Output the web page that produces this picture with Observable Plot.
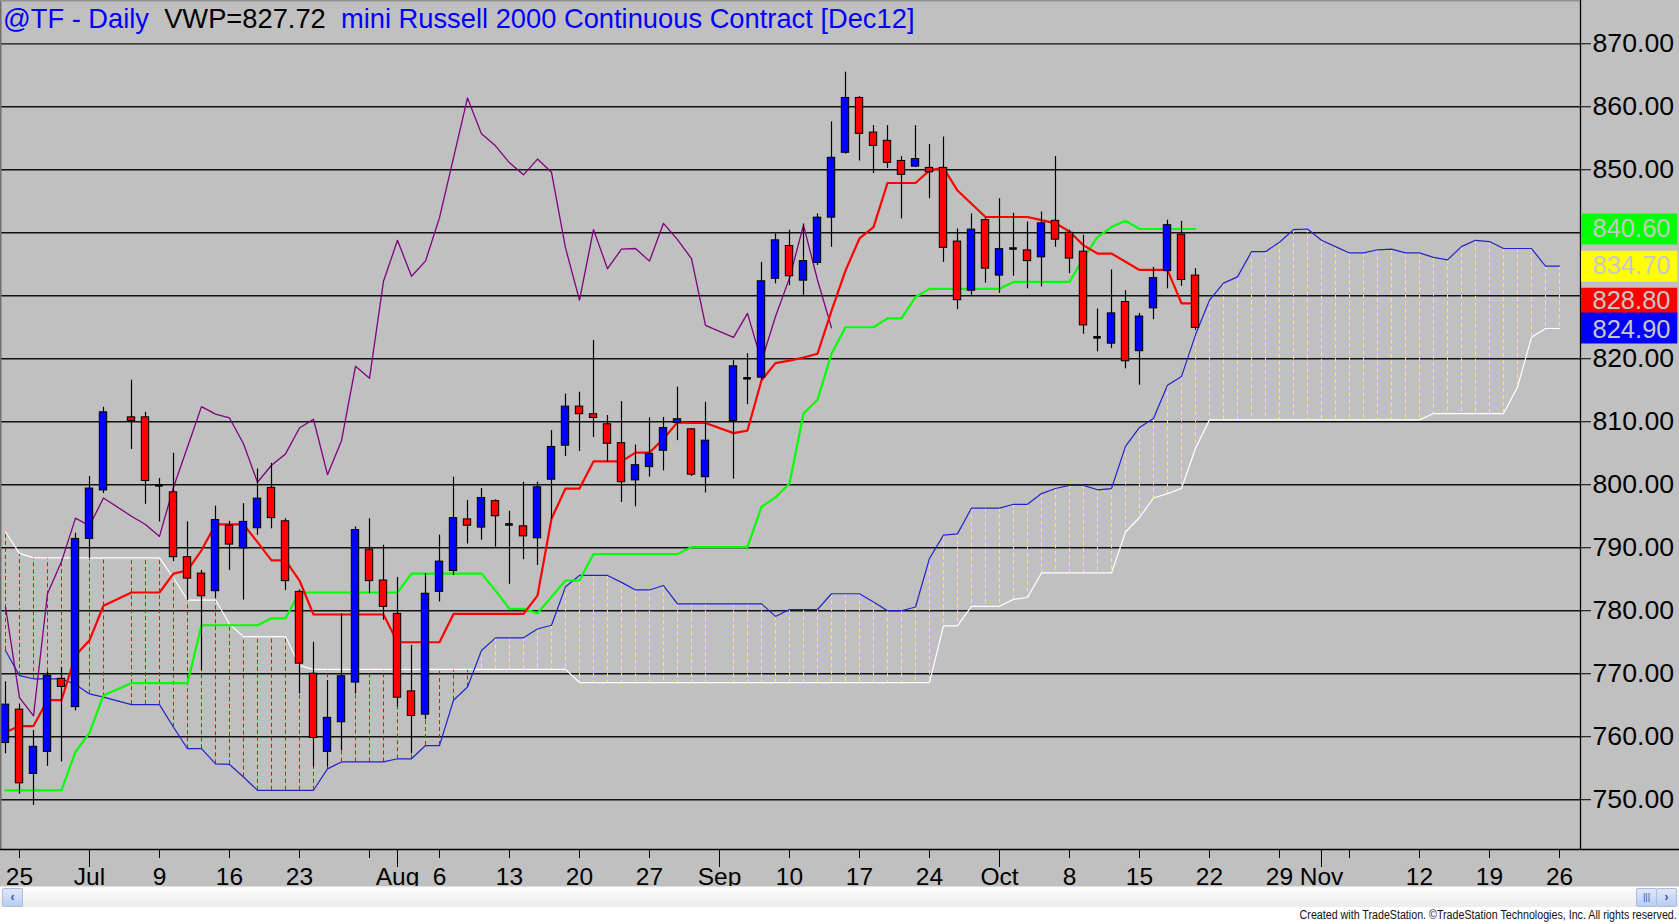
<!DOCTYPE html>
<html><head><meta charset="utf-8">
<script src="https://cdn.jsdelivr.net/npm/d3@7"></script>
<script src="https://cdn.jsdelivr.net/npm/@observablehq/plot@0.6"></script>
<style>
html,body{margin:0;padding:0;background:#fff;}
#wrap{position:relative;width:1679px;height:924px;overflow:hidden;font-family:"Liberation Sans",Arial,sans-serif;background:#fff;}
#chart svg{display:block;}
#title{position:absolute;left:3px;top:3px;font-size:27.3px;line-height:32px;color:#0000FF;white-space:pre;}
#title .k{color:#000;}
#sb{position:absolute;left:0;top:886px;width:1679px;height:20px;background:linear-gradient(#fdfdfd,#ececec);border-top:1px solid #e0e0e0;}
.btn{position:absolute;top:1px;width:19px;height:17px;background:linear-gradient(#dfe8f8,#b9cdf0);border:1px solid #a9bde0;border-radius:2px;color:#3050a0;font-size:12px;line-height:17px;text-align:center;font-weight:bold;}
#ft{position:absolute;right:2px;top:907px;font-size:12px;line-height:16px;color:#111;white-space:nowrap;transform:scaleX(0.89);transform-origin:right center;}
</style></head>
<body>
<div id="wrap">
  <div id="chart"></div>
  <div id="title">@TF - Daily  <span class="k">VWP=827.72</span>  mini Russell 2000 Continuous Contract [Dec12]</div>
  <div id="sb">
    <div class="btn" style="left:2px">&lsaquo;</div>
    <div class="btn" style="left:1636px;font-size:9px;font-weight:normal">|||</div>
    <div class="btn" style="left:1656px">&rsaquo;</div>
  </div>
  <div id="ft">Created with TradeStation. &copy;TradeStation Technologies, Inc. All rights reserved.</div>
</div>
<script>
// ---------- categories ----------
const firstDay = "2012-06-22";
const lastDay = "2012-11-26";
const holidays = ["2012-07-04", "2012-09-03"];

// ---------- OHLC (one per trading day, Jun 22 .. Oct 19, 2012) ----------
const open = [
 759.0,764.3,754.1,757.6,769.2,764.7,791.4,799.1,
 810.7,810.7,799.9,798.8,788.5,785.9,783.1,793.5,789.9,793.1,
 799.5,794.2,783.0,770.0,757.6,762.3,768.6,789.7,784.8,779.5,
 767.2,763.5,783.0,786.3,794.5,793.2,797.4,793.7,793.4,791.5,
 800.8,806.2,812.4,811.2,809.6,806.6,800.7,802.8,805.4,809.8,
 808.8,801.2,
 810.1,816.9,817.0,832.7,837.9,832.4,835.2,842.4,852.7,861.4,
 855.9,854.6,851.4,850.5,850.3,850.3,838.6,830.8,842.0,833.2,
 837.5,837.2,836.1,841.9,840.0,837.0,823.4,822.4,829.0,821.2,
 828.0,833.9,839.7,833.2];
const high = [
 768.7,765.2,761.0,770.3,771.0,792.3,801.3,812.3,
 816.6,811.5,801.0,805.0,794.1,786.4,796.6,794.2,797.0,802.5,
 803.4,794.6,783.3,775.0,768.9,779.5,793.3,794.6,790.4,785.3,
 774.5,785.9,792.0,801.2,797.5,799.4,797.6,795.8,800.4,800.4,
 808.6,814.4,814.7,822.9,811.0,813.2,806.3,810.6,810.7,815.5,
 808.9,813.1,
 819.7,820.8,835.3,839.8,840.4,841.4,843.0,857.6,865.5,861.6,
 857.0,857.0,852.1,857.0,854.0,855.2,840.6,843.0,842.3,845.4,
 843.1,841.7,843.3,852.1,840.4,839.6,827.9,834.1,830.8,827.2,
 834.5,842.0,841.8,834.3];
const low = [
 757.3,750.9,749.1,755.3,756.0,764.1,788.3,798.6,
 805.6,796.9,794.1,787.8,781.6,770.5,781.9,786.4,781.7,792.0,
 793.0,783.2,766.8,755.2,755.2,757.8,766.8,782.7,778.5,764.7,
 757.3,762.7,781.4,785.6,790.6,791.2,790.1,784.2,788.1,787.2,
 794.5,804.5,805.3,807.5,803.6,797.2,796.5,801.2,802.2,807.0,
 801.3,798.7,
 800.9,812.7,816.6,831.9,831.6,830.1,834.8,837.7,852.5,851.4,
 849.4,850.2,842.2,850.4,845.4,835.3,827.8,830.1,832.0,830.4,
 833.1,831.1,831.4,837.7,833.5,823.9,821.1,821.6,818.4,815.8,
 826.2,831.1,831.5,824.5];
const close = [
 765.1,752.6,758.4,769.7,767.9,791.4,799.4,811.5,
 810.1,800.6,799.9,788.5,785.1,782.3,794.4,790.5,794.1,797.8,
 794.7,784.7,771.6,759.8,763.0,769.6,792.8,784.7,780.6,766.2,
 763.3,782.7,787.8,794.7,793.5,797.9,795.0,793.7,791.8,799.6,
 806.0,812.4,811.2,810.6,806.5,800.4,803.1,804.9,809.0,810.4,
 801.6,807.0,
 818.8,816.9,832.3,838.8,833.1,835.5,842.4,851.9,861.4,855.7,
 853.8,851.1,849.2,851.7,849.6,837.6,829.3,840.5,834.3,837.4,
 837.5,835.5,841.5,838.9,835.9,825.3,823.4,827.2,819.6,826.7,
 832.8,841.2,832.5,824.9];

// ---------- Ichimoku lines ----------
const tenkan = [
 760.7,761.7,761.7,765.8,765.8,772.9,775.3,780.8,
 782.9,782.9,782.9,785.9,786.4,789.6,793.7,793.7,793.7,790.9,
 788.0,788.0,784.8,779.4,779.4,779.4,779.4,779.4,779.4,775.0,
 775.0,775.0,775.0,779.5,779.5,779.5,779.5,779.5,779.5,782.4,
 794.6,799.4,799.4,803.7,803.7,803.7,805.1,805.1,807.3,809.9,
 809.8,809.8,
 808.2,808.6,816.6,819.3,819.7,820.2,820.8,827.6,834.0,839.1,
 840.9,847.9,847.9,847.9,849.9,850.3,846.7,844.6,842.5,842.5,
 842.5,842.5,842.0,841.5,840.2,838.0,836.7,836.7,835.4,834.1,
 834.1,834.1,828.8,828.8];
const kijun = [
 751.5,751.5,751.5,751.5,751.5,757.6,760.6,766.6,
 768.5,768.5,768.5,768.5,768.5,777.7,777.7,777.7,777.7,777.7,
 778.8,778.8,782.9,782.9,782.9,782.9,782.9,782.9,782.9,782.9,
 785.9,785.9,785.9,785.9,785.9,785.9,783.2,780.3,780.3,779.6,
 782.2,784.8,784.8,789.0,789.0,789.0,789.0,789.0,789.0,789.0,
 790.1,790.1,
 790.1,790.1,796.5,798.0,800.2,811.3,813.5,820.8,825.0,825.0,
 825.0,826.4,826.4,829.8,831.1,831.1,831.1,831.1,831.1,831.1,
 832.2,832.2,832.2,832.2,832.2,836.0,839.3,840.9,841.9,840.6,
 840.6,840.6,840.6,840.6];
// Senkou spans, one per trading day Jun 22 .. Nov 26 (plotted 26 bars ahead)
const spanA = [
 773.7,769.7,769.2,769.2,769.2,768.3,766.8,766.3,
 765.1,765.1,765.1,761.5,758.1,758.1,755.7,755.6,753.6,751.5,
 751.5,751.5,751.5,751.5,754.9,756.0,756.0,756.0,756.0,756.5,
 756.5,758.6,758.6,765.8,767.9,773.7,775.7,775.7,775.7,777.1,
 777.7,783.8,785.6,785.6,785.6,784.5,783.3,783.3,784.0,781.1,
 781.1,781.1,
 781.1,781.1,781.1,779.1,780.2,780.2,780.2,782.7,782.7,782.7,
 781.4,780.0,780.0,780.6,788.3,792.0,792.2,796.3,796.3,796.3,
 796.9,796.9,798.6,799.4,799.9,799.9,799.2,799.4,806.1,809.1,
 810.5,815.8,817.2,823.8,829.3,832.0,833.0,837.0,837.0,838.5,
 840.5,840.6,838.8,837.8,836.8,836.8,837.3,837.4,836.8,836.8,
 836.1,835.7,837.8,838.8,838.6,837.5,837.5,837.5,834.7,834.7];
const spanB = [
 792.5,789.1,788.4,788.4,788.4,788.4,788.4,788.4,
 788.4,788.4,788.4,785.2,781.7,781.7,781.7,777.9,775.9,775.9,
 775.9,775.9,771.3,770.7,770.7,770.7,770.7,770.7,770.7,770.7,
 770.7,770.7,770.7,770.7,770.7,770.7,770.7,770.7,770.7,770.7,
 770.7,770.7,768.6,768.6,768.6,768.6,768.6,768.6,768.6,768.6,
 768.6,768.6,
 768.6,768.6,768.6,768.6,768.6,768.6,768.6,768.6,768.6,768.6,
 768.6,768.6,768.6,768.6,768.6,777.6,777.6,780.7,780.7,780.7,
 781.8,782.1,786.0,786.0,786.0,786.0,786.0,786.0,792.5,794.8,
 797.9,798.6,799.4,805.8,810.3,810.3,810.3,810.3,810.3,810.3,
 810.3,810.3,810.3,810.3,810.3,810.3,810.3,810.3,810.3,810.3,
 811.3,811.3,811.3,811.3,811.3,811.3,815.5,823.4,824.8,824.8];

// ---------- axis ----------
const yTicks = [750,760,770,780,790,800,810,820,830,840,850,860,870];
const yHiddenLabels = [830, 840]; // covered by the last-value boxes in the reference
const tickDates  = ["2012-06-25","2012-07-02","2012-07-09","2012-07-16","2012-07-23","2012-08-01","2012-08-06","2012-08-13","2012-08-20","2012-08-27","2012-09-03","2012-09-10","2012-09-17","2012-09-24","2012-10-01","2012-10-08","2012-10-15","2012-10-22","2012-10-29","2012-11-01","2012-11-12","2012-11-19","2012-11-26"];
const tickLabels = ["25","Jul","9","16","23","Aug","6","13","20","27","Sep","10","17","24","Oct","8","15","22","29","Nov","12","19","26"];
const plainTickDates = ["2012-07-30","2012-11-05"];
const monthTickDates = ["2012-07-02","2012-08-01","2012-09-03","2012-10-01","2012-11-01"];
const lastValues = [840.60, 834.70, 828.80, 824.90];
const lastColors = ["#00FF00", "#FFFF00", "#FF0000", "#0000FF"];
const lastTextNudge = [0, 0, -2, 2];

// ---------- build ----------
const base = Date.UTC(2012, 5, 25); // Monday Jun 25 = weekday slot 0
function slotOf(s) {
  const diff = Math.round((Date.parse(s) - base) / 864e5);
  const w = Math.floor(diff / 7);
  return w * 5 + (diff - w * 7);
}
const days = [];
for (let t = Date.parse(firstDay); t <= Date.parse(lastDay); t += 864e5) {
  const d = new Date(t), wd = d.getUTCDay();
  const s = d.toISOString().slice(0, 10);
  if (wd === 0 || wd === 6 || holidays.includes(s)) continue;
  days.push(s);
}
const bars = open.map((o, i) => ({slot: slotOf(days[i]), open: o, high: high[i], low: low[i], close: close[i], tenkan: tenkan[i], kijun: kijun[i]}));
const cloud = spanA.map((a, i) => ({slot: slotOf(days[i]), a, b: spanB[i]}));
const chikou = bars.slice(0, bars.length - 26).map((d, i) => ({slot: d.slot, y: bars[i + 26].close}));
const labelMap = new Map(tickDates.map((d, i) => [slotOf(d), tickLabels[i]]));
const weekSlots = tickDates.concat(plainTickDates).map(slotOf);
const monthSlots = monthTickDates.map(slotOf);

const xDomain = [-1.357, 111.5];
const yDomain = [742.1, 876.87];
const boxX1 = xDomain[1] + 0.07, boxX2 = xDomain[1] + 6.95;

const boxMarks = [];
lastValues.forEach((v, i) => {
  boxMarks.push(Plot.ruleY([v], {x1: boxX1, x2: boxX2, stroke: lastColors[i], strokeWidth: 31}));
  boxMarks.push(Plot.text([v], {y: d => d, x: xDomain[1], dx: 12, dy: lastTextNudge[i], text: d => d.toFixed(2), textAnchor: "start", fill: "#C8C8C8", fontSize: 25.5}));
});

const chart = Plot.plot({
  width: 1679, height: 886,
  marginTop: 0, marginLeft: 0, marginRight: 99, marginBottom: 37,
  style: {background: "#C0C0C0", fontFamily: "'Liberation Sans', Arial, sans-serif", color: "#000", overflow: "visible"},
  x: {domain: xDomain},
  y: {domain: yDomain},
  color: {type: "identity"},
  marks: [
    Plot.ruleY(yTicks, {stroke: "#111", strokeWidth: 1.3}),
    Plot.ruleX(cloud, {x: "slot", y1: "a", y2: "b", stroke: d => d.a >= d.b ? "#FFFF00" : "#FF0000", strokeWidth: 1, strokeDasharray: "4,3"}),
    Plot.line(cloud, {x: "slot", y: "b", stroke: "#FFFFFF", strokeWidth: 1.2}),
    Plot.line(cloud, {x: "slot", y: "a", stroke: "#2222CC", strokeWidth: 1.2}),
    Plot.line(chikou, {x: "slot", y: "y", stroke: "#800080", strokeWidth: 1.3}),
    Plot.line(bars, {x: "slot", y: "kijun", stroke: "#00FF00", strokeWidth: 2.2}),
    Plot.line(bars, {x: "slot", y: "tenkan", stroke: "#FF0000", strokeWidth: 2.2}),
    Plot.ruleX(bars, {x: "slot", y1: "low", y2: "high", stroke: "#000", strokeWidth: 1.2}),
    Plot.rect(bars.filter(d => d.open !== d.close), {x1: d => d.slot - 0.5, x2: d => d.slot + 0.5, y1: "open", y2: "close", fill: d => d.close > d.open ? "#0000FF" : "#FF0000", stroke: "#000", strokeWidth: 1, insetLeft: 3.3, insetRight: 3.3}),
    Plot.ruleY(bars.filter(d => d.open === d.close), {y: "close", x1: d => d.slot - 0.27, x2: d => d.slot + 0.27, stroke: "#000", strokeWidth: 2.6}),
    Plot.ruleX([xDomain[1]], {stroke: "#000", strokeWidth: 1.3}),
    Plot.ruleX([xDomain[0]], {stroke: "#707070", strokeWidth: 2}),
    Plot.ruleY([yDomain[1]], {stroke: "#909090", strokeWidth: 2}),
    Plot.ruleY([yDomain[0]], {x1: xDomain[0], x2: boxX2 + 0.2, stroke: "#000", strokeWidth: 1.3}),
    Plot.axisY({anchor: "right", ticks: yTicks, tickSize: 10, tickPadding: 2, tickFormat: d => yHiddenLabels.includes(d) ? "" : d.toFixed(2), fontSize: 26.7, label: null, stroke: "#000"}),
    Plot.axisX({ticks: weekSlots, tickSize: 9, tickFormat: () => "", label: null, stroke: "#000"}),
    Plot.axisX({ticks: monthSlots, tickSize: 18, tickFormat: () => "", label: null, stroke: "#000"}),
    Plot.axisX({ticks: Array.from(labelMap.keys()), tickSize: 0, tickPadding: 18, tickFormat: d => labelMap.get(d), fontSize: 24.5, label: null}),
    ...boxMarks
  ]
});
document.getElementById("chart").appendChild(chart);
</script>
</body></html>
